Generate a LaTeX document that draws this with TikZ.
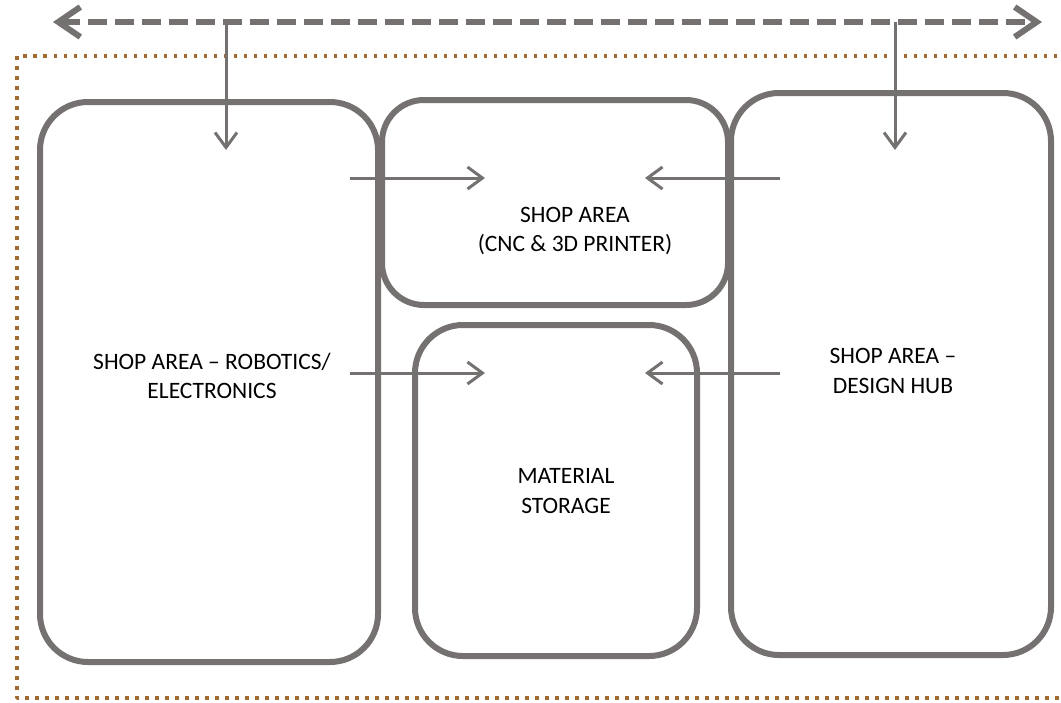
\documentclass[tikz,border=0pt]{standalone}
\usepackage{fontspec}
\setmainfont{Carlito}
\usetikzlibrary{arrows.meta}
\definecolor{wallgray}{HTML}{767171}
\definecolor{zonebrown}{HTML}{A16A33}
\begin{document}
\begin{tikzpicture}[x=1pt,y=-1pt,line join=round,
	room/.style={draw=wallgray,line width=6pt,rounded corners=48pt,inner sep=0pt},
	flow/.style={draw=wallgray,line width=3pt,-{Straight Barb[length=15pt,width=22pt,line width=3pt]}},
	lbl/.style={font=\fontsize{23.5}{29.5}\selectfont,align=center,text=black}]
	\useasboundingbox (0,0) rectangle (1061,702);
	% zone
	\draw[zonebrown,line width=3.5pt,dash pattern=on 3.5pt off 6.5pt] (17,56) rectangle (1075,698);
	% rooms
	\node[room,minimum width=338pt,minimum height=560pt] (robo) at (209,382) {};
	\node[room,rounded corners=42pt,minimum width=346pt,minimum height=205pt] (cnc) at (555,202.5) {};
	\node[room,minimum width=282pt,minimum height=331pt] (store) at (556,490.5) {};
	\node[room,minimum width=320pt,minimum height=562pt] (hub) at (891,374) {};
	\node[lbl] (robot) at (212,376) {SHOP AREA -- ROBOTICS/\\ELECTRONICS};
	\node[lbl] (cnct) at (575,231) {SHOP AREA\\(CNC \& 3D PRINTER)};
	\node[lbl] (storet) at (566,491) {MATERIAL\\STORAGE};
	\node[lbl] (hubt) at (893,371) {SHOP AREA --\\DESIGN HUB};
	% corridor
	\coordinate (cl) at (53,22);
	\coordinate (cr) at (1042,22);
	\draw[wallgray,line width=6pt,dash pattern=on 19pt off 8pt,{Straight Barb[length=22pt,width=30pt,line width=6pt]}-{Straight Barb[length=22pt,width=30pt,line width=6pt]}] (cl)--(cr);
	% flows
	\coordinate (a1) at (226,22);  \coordinate (a2) at (226,150);
	\coordinate (b1) at (895,22);  \coordinate (b2) at (895,150);
	\coordinate (c1) at (350,178); \coordinate (c2) at (485,178);
	\coordinate (d1) at (780,178); \coordinate (d2) at (645,178);
	\coordinate (e1) at (350,373); \coordinate (e2) at (485,373);
	\coordinate (f1) at (780,373); \coordinate (f2) at (645,373);
	\foreach \s/\t in {a1/a2,b1/b2,c1/c2,d1/d2,e1/e2,f1/f2} \draw[flow] (\s)--(\t);
\end{tikzpicture}
\end{document}
